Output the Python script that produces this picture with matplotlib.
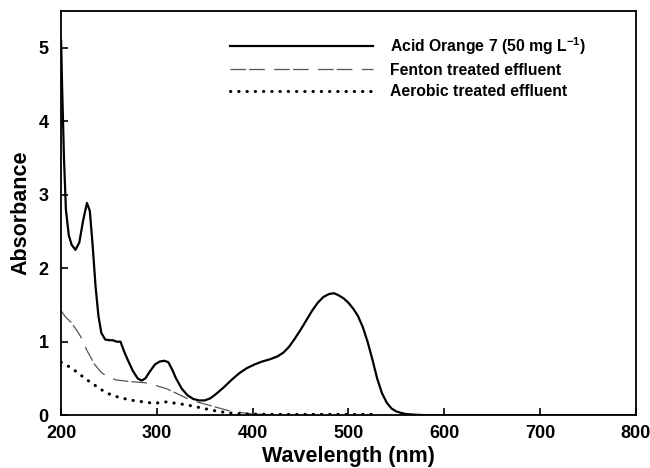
import matplotlib
matplotlib.use("Agg")
import matplotlib.pyplot as plt

plt.rcParams['font.family'] = ['Liberation Sans', 'DejaVu Sans']
plt.rcParams['font.weight'] = 'bold'
plt.rcParams['mathtext.fontset'] = 'custom'
plt.rcParams['mathtext.rm'] = 'Liberation Sans:bold'
plt.rcParams['mathtext.default'] = 'rm'

# Acid Orange 7 spectrum
ao7_wl = [200, 201, 203, 205, 208, 211, 215, 219, 223, 227, 230, 233, 236, 239, 242, 246,
          250, 254, 258, 262, 266, 270, 275, 280, 284, 288, 293, 298, 303, 308, 312, 316,
          320, 326, 332, 338, 344, 350, 356, 362, 370, 378, 386, 394, 402, 410, 418, 426,
          432, 438, 444, 450, 456, 462, 468, 474, 480, 485, 490, 495, 500, 505, 510, 515,
          520, 525, 530, 535, 540, 545, 550, 555, 560, 570, 580, 800]
ao7_abs = [5.1, 4.5, 3.5, 2.8, 2.45, 2.32, 2.25, 2.35, 2.65, 2.89, 2.78, 2.3, 1.75, 1.35, 1.12, 1.03,
           1.02, 1.02, 1.0, 1.0, 0.86, 0.74, 0.6, 0.5, 0.47, 0.5, 0.6, 0.69, 0.73, 0.74, 0.72, 0.62,
           0.5, 0.36, 0.27, 0.22, 0.2, 0.2, 0.23, 0.29, 0.38, 0.48, 0.57, 0.64, 0.69, 0.73, 0.76, 0.8,
           0.85, 0.93, 1.04, 1.16, 1.29, 1.42, 1.53, 1.61, 1.65, 1.66, 1.63, 1.59, 1.53, 1.45, 1.35, 1.2,
           1.0, 0.76, 0.5, 0.3, 0.17, 0.09, 0.05, 0.03, 0.015, 0.005, 0.0, 0.0]

# Fenton treated effluent
fen_wl = [200, 205, 210, 215, 220, 227, 235, 242, 249, 257, 270, 288, 300, 310, 320, 331,
          342, 353, 364, 375, 386, 396, 410, 425]
fen_abs = [1.42, 1.33, 1.27, 1.18, 1.08, 0.88, 0.69, 0.58, 0.52, 0.48, 0.46, 0.44, 0.4, 0.36,
           0.3, 0.23, 0.18, 0.14, 0.1, 0.06, 0.04, 0.02, 0.01, 0.005]

# aerobic treated effluent
aer_wl = [200, 207, 214, 220, 227, 234, 240, 247, 253, 264, 275, 286, 297, 303, 310, 320,
          331, 342, 353, 364, 375, 386, 396, 420, 450, 480, 510, 528]
aer_abs = [0.72, 0.67, 0.61, 0.55, 0.48, 0.42, 0.36, 0.31, 0.27, 0.23, 0.2, 0.18, 0.16, 0.17,
           0.18, 0.16, 0.14, 0.11, 0.08, 0.05, 0.03, 0.02, 0.015, 0.01, 0.01, 0.01, 0.01, 0.01]

fig = plt.figure(figsize=(6.5, 4.68), dpi=100)
ax = fig.add_axes([0.094, 0.113, 0.884, 0.863])

ax.plot(ao7_wl, ao7_abs, color='black', lw=1.6, label='Acid Orange 7 (50 mg L$^{-1}$)')
ax.plot(fen_wl, fen_abs, color='#555555', lw=0.9, linestyle=(0, (12.5, 2.5, 12.5, 7.5)),
        label='Fenton treated effluent')
ax.plot(aer_wl, aer_abs, color='black', lw=2.2, linestyle=(0, (0.1, 2.6)),
        dash_capstyle='round', label='Aerobic treated effluent')

ax.set_xlim(200, 800)
ax.set_ylim(0, 5.5)
ax.set_xticks([200, 300, 400, 500, 600, 700, 800])
ax.set_yticks([0, 1, 2, 3, 4, 5])
ax.tick_params(direction='in', length=5, width=1.2, labelsize=13)
ax.tick_params(axis='x', pad=7)
ax.tick_params(axis='y', pad=9)
for s in ax.spines.values():
    s.set_linewidth(1.3)

ax.set_xlabel('Wavelength (nm)', fontsize=15.5, fontweight='bold', labelpad=3)
ax.set_ylabel('Absorbance', fontsize=15.5, fontweight='bold', labelpad=5)

ax.legend(loc='upper left', bbox_to_anchor=(230 / 650, 1 - 35 / 468),
          bbox_transform=fig.transFigure, frameon=False, fontsize=11.3,
          handlelength=9.1, handletextpad=1.1, labelspacing=0.4, borderpad=0,
          borderaxespad=0)

fig.savefig('out.png', dpi=100)
